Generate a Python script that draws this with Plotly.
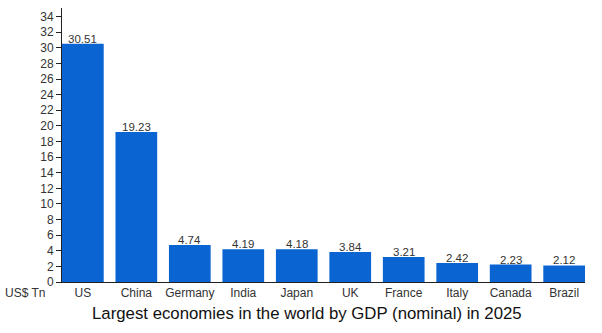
import plotly.graph_objects as go

countries = ["US", "China", "Germany", "India", "Japan", "UK", "France", "Italy", "Canada", "Brazil"]
gdp = [30.51, 19.23, 4.74, 4.19, 4.18, 3.84, 3.21, 2.42, 2.23, 2.12]
gdp_labels = ["30.51", "19.23", "4.74", "4.19", "4.18", "3.84", "3.21", "2.42", "2.23", "2.12"]
y_ticks = list(range(0, 35, 2))

FONT = "Liberation Sans, Arial, Helvetica, sans-serif"
W, H = 602, 333
ML, MR, MT, MB = 62, 17, 8, 51

fig = go.Figure()
fig.add_trace(go.Bar(
    x=list(range(len(countries))), y=gdp,
    marker=dict(color="#0a64d2", line=dict(width=0)),
    width=0.78,
    hoverinfo="skip",
))

for i, (v, t) in enumerate(zip(gdp, gdp_labels)):
    fig.add_annotation(x=i, y=v, text=t, showarrow=False, xanchor="center", yanchor="bottom",
                       yshift=-3, font=dict(family=FONT, size=11.5, color="#333333"))

fig.add_annotation(xref="paper", yref="paper", x=-(ML - 25) / (W - ML - MR), y=-(293 - (H - MB)) / (H - MT - MB),
                   text="US$ Tn", showarrow=False, xanchor="center", yanchor="middle",
                   font=dict(family=FONT, size=12, color="#333333"))
fig.add_annotation(xref="paper", yref="paper", x=(307 - ML) / (W - ML - MR), y=-(313 - (H - MB)) / (H - MT - MB),
                   text="Largest economies in the world by GDP (nominal) in 2025", showarrow=False,
                   xanchor="center", yanchor="middle",
                   font=dict(family=FONT, size=16.8, color="#111111"))

fig.update_layout(
    width=W, height=H,
    margin=dict(l=ML, r=MR, t=MT, b=MB),
    paper_bgcolor="white", plot_bgcolor="white",
    showlegend=False,
    font=dict(family=FONT, size=12, color="#333333"),
    xaxis=dict(
        tickmode="array", tickvals=list(range(len(countries))), ticktext=countries,
        range=[-0.39, 9.39], showgrid=False, zeroline=False,
        showline=True, linecolor="#222222", linewidth=1, ticks="",
        tickfont=dict(family=FONT, size=12, color="#333333"), fixedrange=True,
    ),
    yaxis=dict(
        range=[0, 35.1], tickmode="array", tickvals=y_ticks,
        showgrid=False, zeroline=False, showline=True, linecolor="#222222", linewidth=1,
        ticks="outside", ticklen=5, tickcolor="#222222",
        tickfont=dict(family=FONT, size=12, color="#333333"), fixedrange=True,
    ),
)

fig.write_html("out.html")
